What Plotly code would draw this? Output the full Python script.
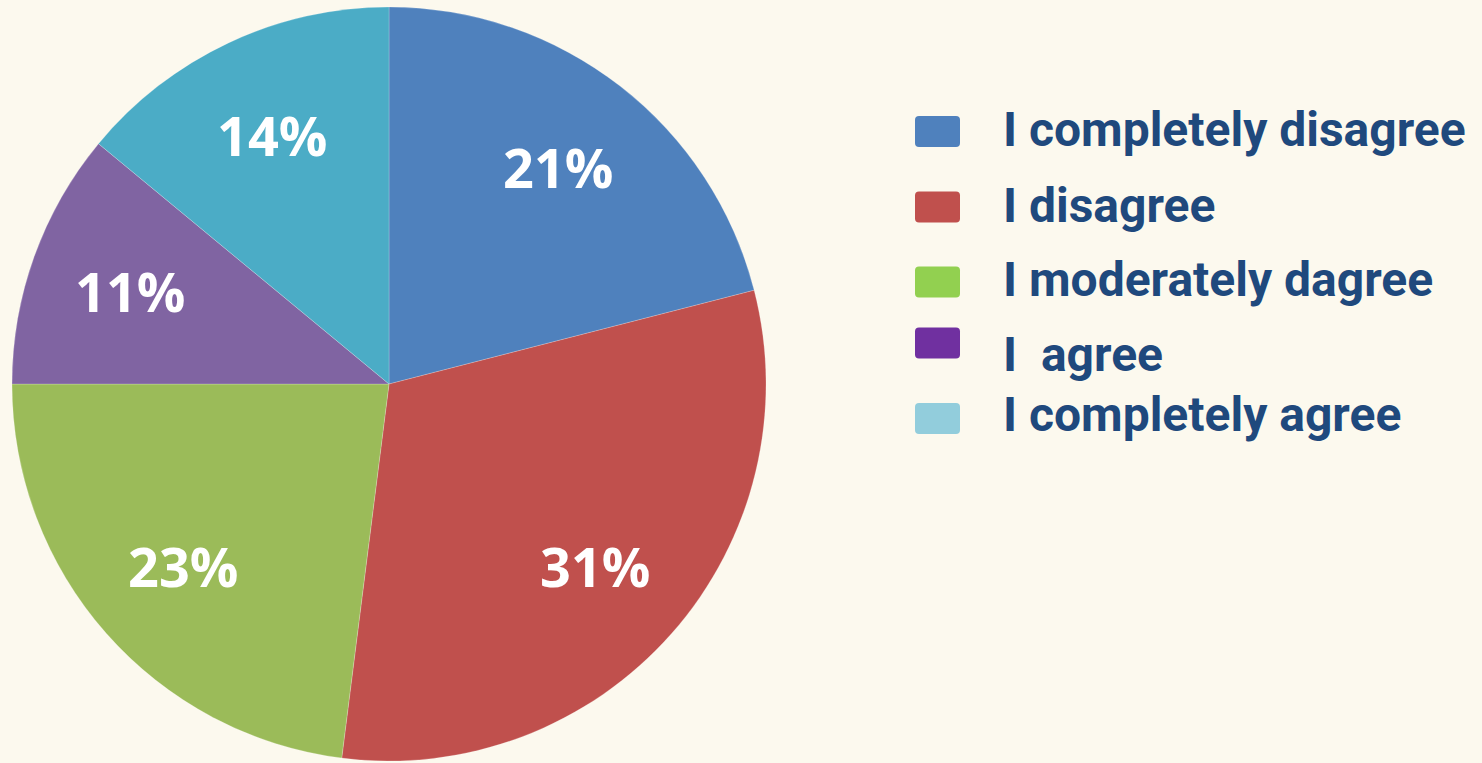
import math
import plotly.graph_objects as go

# 回答カテゴリと割合（%）
categories = ["I completely disagree", "I disagree", "I moderately dagree", "I  agree", "I completely agree"]
shares = [21, 31, 23, 11, 14]
slice_colors = ["#4F81BD", "#C0504D", "#9BBB59", "#8064A2", "#4BACC6"]
legend_colors = ["#4F81BD", "#C0504D", "#92D050", "#7030A0", "#92CDDC"]

W, H = 1482, 763
BG = "#FCF9EE"

# 円の中心と半径（ピクセル）
cx, cy, r = 389, 384, 377


def rounded_rect(x0, y0, x1, y1, rad=4):
    """ピクセル座標の角丸矩形をpaper座標のSVGパスに変換"""
    def p(x, y):
        return f"{x / W:.6f},{1 - y / H:.6f}"
    return (
        f"M {p(x0 + rad, y0)} L {p(x1 - rad, y0)} Q {p(x1, y0)} {p(x1, y0 + rad)} "
        f"L {p(x1, y1 - rad)} Q {p(x1, y1)} {p(x1 - rad, y1)} "
        f"L {p(x0 + rad, y1)} Q {p(x0, y1)} {p(x0, y1 - rad)} "
        f"L {p(x0, y0 + rad)} Q {p(x0, y0)} {p(x0 + rad, y0)} Z"
    )


fig = go.Figure()

fig.add_trace(go.Pie(
    labels=categories,
    values=shares,
    sort=False,
    direction="clockwise",
    rotation=0,
    marker=dict(colors=slice_colors, line=dict(color="rgba(255,255,255,0.35)", width=0.6)),
    textinfo="none",
    hoverinfo="label+percent",
    showlegend=False,
    domain=dict(x=[(cx - r) / W, (cx + r) / W], y=[(H - cy - r) / H, (H - cy + r) / H]),
))

# パーセント表示：各スライスの中央角から位置を計算
total = sum(shares)
cum = 0
for v in shares:
    mid = (cum + v / 2) / total * 2 * math.pi
    cum += v
    px_ = cx + 0.73 * r * math.sin(mid)
    py_ = cy - 0.73 * r * math.cos(mid)
    fig.add_annotation(
        x=px_ / W, y=1 - py_ / H, xref="paper", yref="paper",
        xanchor="center", yanchor="middle", showarrow=False,
        text=f"<b>{v}%</b>",
        font=dict(family="Open Sans", size=54, color="white"),
    )

# 凡例（手描き：スウォッチの色がスライスと異なるため）
swatch_y = [131.5, 207, 282, 343, 418.5]
text_y = [129.5, 205, 279.5, 354, 414.5]
for name, col, sy, ty in zip(categories, legend_colors, swatch_y, text_y):
    fig.add_shape(
        type="path", xref="paper", yref="paper",
        path=rounded_rect(915, sy - 15.5, 960, sy + 15.5),
        fillcolor=col, line=dict(width=0),
    )
    fig.add_annotation(
        x=1001 / W, y=1 - ty / H, xref="paper", yref="paper",
        xanchor="left", yanchor="middle", showarrow=False,
        text=f"<b>{name}</b>",
        font=dict(family="Roboto", size=48, color="#1F497D"),
    )

fig.update_layout(
    width=W, height=H,
    margin=dict(l=0, r=0, t=0, b=0),
    paper_bgcolor=BG,
    plot_bgcolor=BG,
)

fig.write_html(
    "out.html",
    config={"displayModeBar": False},
    post_script="document.body.style.margin='0';document.body.style.background='#FCF9EE';",
)
